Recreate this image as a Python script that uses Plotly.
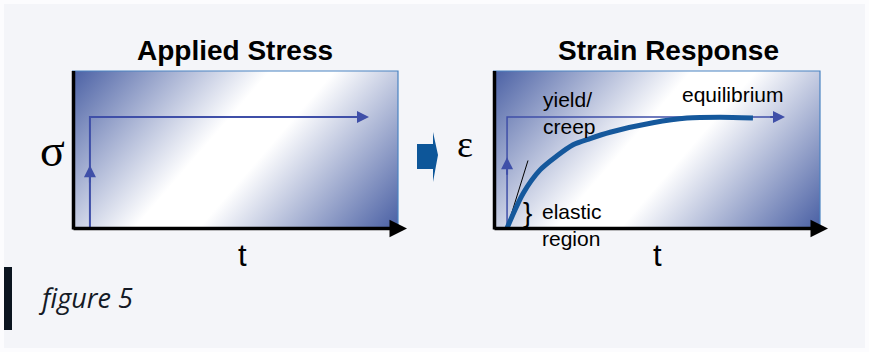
import base64
import plotly.graph_objects as go

W, H = 869, 352

# stress step (time in arbitrary units 0-10, stress 0-1)
stress_t = [0.55, 0.55, 9.0]
stress_v = [0.0, 0.707, 0.707]

# strain step and response curve
step_t = [0.43, 0.43, 8.8]
step_v = [0.0, 0.707, 0.707]
strain_t = [0.43, 0.92, 1.44, 1.96, 2.45, 2.97, 3.58, 4.89, 5.93, 6.94, 7.95]
strain_v = [0.0, 0.22, 0.37, 0.46, 0.53, 0.57, 0.61, 0.67, 0.70, 0.705, 0.70]
tangent_t = [0.43, 1.07]
tangent_v = [0.0, 0.43]


def px(x):
    return x / W


def py(y):
    return 1 - y / H


BLUE = "#3f4fa8"
CURVE = "#15589c"

# gradient background for each panel (svg image)
svg = (
    '<svg xmlns="http://www.w3.org/2000/svg" width="326" height="157">'
    '<defs><linearGradient id="g" gradientUnits="userSpaceOnUse" x1="31" y1="-36" x2="295" y2="192">'
    '<stop offset="0" stop-color="#4a60a4"/>'
    '<stop offset="0.43" stop-color="#ffffff"/>'
    '<stop offset="0.57" stop-color="#ffffff"/>'
    '<stop offset="1" stop-color="#4a60a4"/>'
    '</linearGradient></defs>'
    '<rect width="326" height="157" fill="url(#g)"/></svg>'
)
grad_src = "data:image/svg+xml;base64," + base64.b64encode(svg.encode()).decode()

fig = go.Figure()

# left panel traces
fig.add_trace(go.Scatter(x=stress_t, y=stress_v, mode="lines",
                         line=dict(color=BLUE, width=2), xaxis="x", yaxis="y",
                         hoverinfo="skip", showlegend=False))
# right panel traces
fig.add_trace(go.Scatter(x=step_t, y=step_v, mode="lines",
                         line=dict(color=BLUE, width=1.5), xaxis="x2", yaxis="y2",
                         hoverinfo="skip", showlegend=False))
fig.add_trace(go.Scatter(x=tangent_t, y=tangent_v, mode="lines",
                         line=dict(color="black", width=1), xaxis="x2", yaxis="y2",
                         hoverinfo="skip", showlegend=False))
fig.add_trace(go.Scatter(x=strain_t, y=strain_v, mode="lines",
                         line=dict(color=CURVE, width=5, shape="spline", smoothing=0.8),
                         xaxis="x2", yaxis="y2", hoverinfo="skip", showlegend=False))

shapes = []
annotations = []

# white frame around the card
shapes.append(dict(type="rect", xref="paper", yref="paper", x0=0, y0=0, x1=1, y1=1,
                   line=dict(color="#fcfcfe", width=8), layer="below"))

panels = [(72, 398, 407), (493, 820, 828)]
images = []
for left, right, tip in panels:
    images.append(dict(source=grad_src, xref="paper", yref="paper",
                       x=px(left), y=py(71), sizex=px(right) - px(left),
                       sizey=py(71) - py(228), xanchor="left", yanchor="top",
                       sizing="stretch", layer="below"))
    # thin blue top/right border
    shapes.append(dict(type="path", xref="paper", yref="paper",
                       path=f"M {px(left)},{py(71)} L {px(right)},{py(71)} L {px(right)},{py(228)}",
                       line=dict(color="#4a84c2", width=1.2)))
    # black vertical axis
    shapes.append(dict(type="line", xref="paper", yref="paper",
                       x0=px(left + 1.5), y0=py(71), x1=px(left + 1.5), y1=py(229.5),
                       line=dict(color="black", width=3.5)))
    # black time axis with arrow
    annotations.append(dict(xref="paper", yref="paper", x=px(tip), y=py(228.5),
                            axref="pixel", ayref="pixel", ax=-(tip - left), ay=0,
                            showarrow=True, arrowhead=2, arrowsize=1, arrowwidth=3.5,
                            arrowcolor="black", text=""))

# blue step arrows
for ax_name, t0, tend, tip_v in [("", 0.55, 9.11, 0.40), ("2", 0.43, 8.93, 0.45)]:
    annotations.append(dict(xref="x" + ax_name, yref="y" + ax_name, x=tend, y=0.707,
                            axref="x" + ax_name, ayref="y" + ax_name, ax=tend - 0.5, ay=0.707,
                            showarrow=True, arrowhead=2, arrowsize=1.2, arrowwidth=2,
                            arrowcolor=BLUE, text=""))
    annotations.append(dict(xref="x" + ax_name, yref="y" + ax_name, x=t0, y=tip_v,
                            axref="x" + ax_name, ayref="y" + ax_name, ax=t0, ay=tip_v - 0.12,
                            showarrow=True, arrowhead=2, arrowsize=1.2, arrowwidth=2,
                            arrowcolor=BLUE, text=""))

# block arrow between panels
shapes.append(dict(type="path", xref="paper", yref="paper",
                   path=(f"M {px(417)},{py(144)} L {px(433)},{py(144)} L {px(433)},{py(132)} "
                         f"L {px(438)},{py(155)} L {px(433)},{py(182)} L {px(433)},{py(169)} "
                         f"L {px(417)},{py(169)} Z"),
                   fillcolor="#0d5699", line=dict(width=0)))

# caption bar
shapes.append(dict(type="rect", xref="paper", yref="paper",
                   x0=px(4), x1=px(12), y0=py(330), y1=py(267),
                   fillcolor="#0b1520", line=dict(width=0)))

SANS = "Liberation Sans, Arial, sans-serif"
SERIF = "Liberation Serif, Times New Roman, serif"


def label(x, y, text, size, family=SANS, xanchor="center", xref="paper", yref="paper",
          bold=False, italic=False, color="black"):
    if bold:
        text = f"<b>{text}</b>"
    if italic:
        text = f"<i>{text}</i>"
    annotations.append(dict(x=x, y=y, xref=xref, yref=yref, text=text, showarrow=False,
                            xanchor=xanchor, yanchor="middle", align="left",
                            font=dict(family=family, size=size, color=color)))


label(px(235), py(50), "Applied Stress", 28, bold=True)
label(px(668), py(50), "Strain Response", 28, bold=True)
label(px(52), py(150), "σ", 46, family=SERIF)
label(px(465), py(144), "ε", 38, family=SERIF)
label(px(242), py(255), "t", 31)
label(px(657), py(255), "t", 31)

label(1.47, 0.73, "yield/<br>creep", 21, xanchor="left", xref="x2", yref="y2")
label(5.72, 0.85, "equilibrium", 21, xanchor="left", xref="x2", yref="y2")
label(1.44, 0.02, "elastic<br>region", 21, xanchor="left", xref="x2", yref="y2")
label(1.07, 0.10, "}", 28, xref="x2", yref="y2")

label(px(36), py(297), "figure 5", 27, family="Open Sans, sans-serif", xanchor="left",
      italic=True, color="#141a26")

hidden = dict(showgrid=False, zeroline=False, showticklabels=False, showline=False,
              fixedrange=True)
fig.update_layout(
    width=W, height=H,
    margin=dict(l=0, r=0, t=0, b=0),
    paper_bgcolor="#f4f5f9",
    plot_bgcolor="rgba(0,0,0,0)",
    xaxis=dict(domain=[px(72), px(398)], range=[0, 10], **hidden),
    yaxis=dict(domain=[py(228), py(71)], range=[0, 1], **hidden),
    xaxis2=dict(domain=[px(493), px(820)], range=[0, 10], anchor="y2", **hidden),
    yaxis2=dict(domain=[py(228), py(71)], range=[0, 1], anchor="x2", **hidden),
    shapes=shapes,
    annotations=annotations,
    images=images,
    showlegend=False,
)

fig.write_html("out.html", config=dict(displayModeBar=False),
               post_script="document.body.style.margin='0';document.body.style.overflow='hidden';")
